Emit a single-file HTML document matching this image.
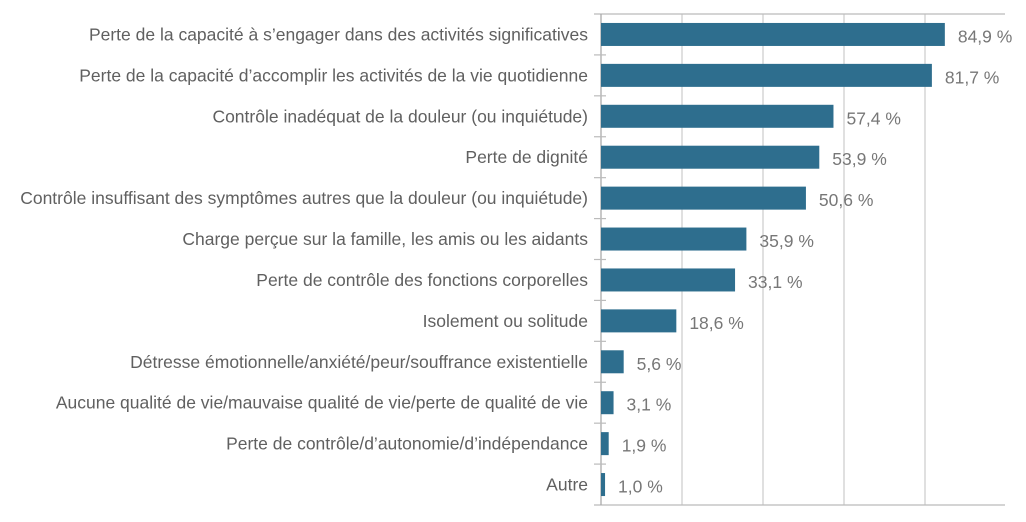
<!DOCTYPE html>
<html><head><meta charset="utf-8"><style>
body{margin:0;background:#fff;width:1026px;height:517px;overflow:hidden}
svg{font-family:"Liberation Sans",sans-serif}
</style></head><body>
<svg id="chart" width="1026" height="517" xmlns="http://www.w3.org/2000/svg"></svg>
<script>
const categories=["Perte de la capacité à s’engager dans des activités significatives","Perte de la capacité d’accomplir les activités de la vie quotidienne","Contrôle inadéquat de la douleur (ou inquiétude)","Perte de dignité","Contrôle insuffisant des symptômes autres que la douleur (ou inquiétude)","Charge perçue sur la famille, les amis ou les aidants","Perte de contrôle des fonctions corporelles","Isolement ou solitude","Détresse émotionnelle/anxiété/peur/souffrance existentielle","Aucune qualité de vie/mauvaise qualité de vie/perte de qualité de vie","Perte de contrôle/d’autonomie/d’indépendance","Autre"];
const values=[84.9,81.7,57.4,53.9,50.6,35.9,33.1,18.6,5.6,3.1,1.9,1.0];
const valueLabels=["84,9 %","81,7 %","57,4 %","53,9 %","50,6 %","35,9 %","33,1 %","18,6 %","5,6 %","3,1 %","1,9 %","1,0 %"];
const gridTicks=[20,40,60,80];
const svg=document.getElementById('chart');const NS='http://www.w3.org/2000/svg';
const x0=601,pxPer=4.05,topY=14,bottomY=505;const band=(bottomY-topY)/categories.length;
const X=v=>x0+v*pxPer;const Y=i=>topY+band*i;
function mk(t,a,txt){const el=document.createElementNS(NS,t);for(const k in a)el.setAttribute(k,a[k]);if(txt!=null)el.textContent=txt;svg.appendChild(el);return el;}
let e;
gridTicks.forEach(g=>{e=mk('line',{x1:X(g),x2:X(g),y1:topY,y2:bottomY,stroke:'#cfcfcf','stroke-width':1.3});

});
e=mk('line',{x1:594,x2:1005,y1:topY,y2:topY,stroke:'#bbb','stroke-width':1.3});


e=mk('line',{x1:594,x2:1005,y1:bottomY,y2:bottomY,stroke:'#bbb','stroke-width':1.3});


e=mk('line',{x1:x0,x2:x0,y1:topY,y2:bottomY,stroke:'#aaa','stroke-width':1.3});


for(let i=1;i<categories.length;i++){e=mk('line',{x1:594,x2:606,y1:Y(i),y2:Y(i),stroke:'#bbb','stroke-width':1.2});

}
categories.forEach((c,i)=>{const cy=Y(i)+band/2;
e=mk('rect',{x:x0,y:cy-11.5,width:values[i]*pxPer,height:23,fill:'#2e6e8e'});


e=mk('text',{x:588,y:cy+6,'text-anchor':'end','font-size':17.5,fill:'#606060'},c);


e=mk('text',{x:X(values[i])+13,y:cy+8,'font-size':17.5,fill:'#777'},valueLabels[i]);

});
</script></body></html>
